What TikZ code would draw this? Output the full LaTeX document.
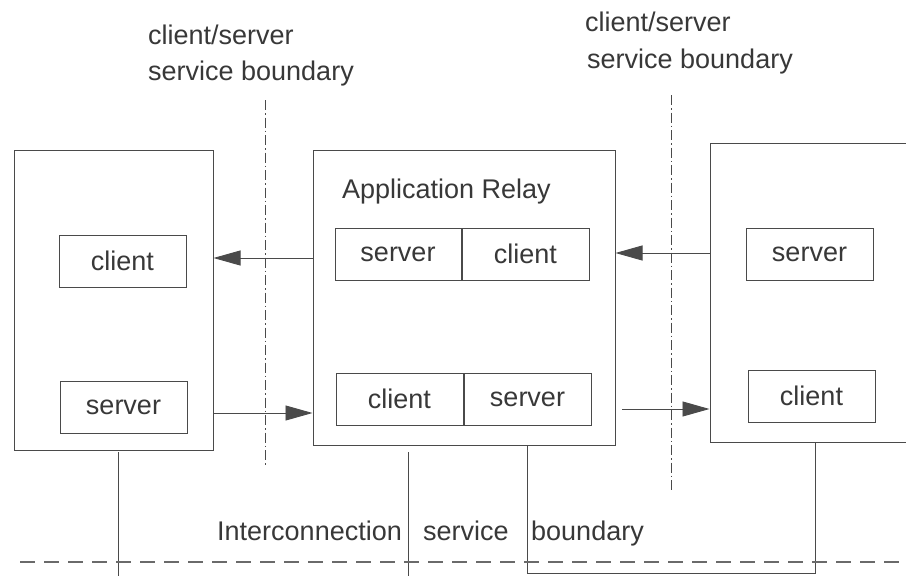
\documentclass[tikz,border=0pt]{standalone}
\usepackage{fontspec}
\setmainfont{Liberation Sans}
\usetikzlibrary{arrows.meta}
\definecolor{ink}{HTML}{4A4A4A}
\definecolor{txt}{HTML}{383838}
\definecolor{rule}{HTML}{6A6A6A}

\begin{document}
\begin{tikzpicture}[x=1pt,y=-1pt,
  every node/.style={font=\fontsize{27}{31}\selectfont, text=txt},
  frame/.style={draw=ink, line width=1pt, inner sep=0pt},
  part/.style={draw=ink, line width=1pt, inner sep=0pt, minimum height=52pt},
  label/.style={anchor=base west, inner sep=0pt},
  link/.style={draw=ink, line width=0.9pt, -{Triangle[length=27pt,width=15pt]}},
  wire/.style={draw=ink, line width=0.9pt},
  csline/.style={draw=ink, line width=0.8pt, dash pattern=on 10pt off 3pt on 1.5pt off 3pt},
  icline/.style={draw=rule, line width=2.4pt, dash pattern=on 15pt off 9pt}
]
\clip (0,0) rectangle (906,576);
\fill[white] (0,0) rectangle (906,576);

% end systems and the relay
\node[frame, minimum width=199pt, minimum height=300pt] (lbox) at (113.5,300) {};
\node[frame, minimum width=302pt, minimum height=295pt] (relay) at (464,297.5) {};
\node[frame, minimum width=240pt, minimum height=299pt] (rbox) at (830,292.5) {};

% client / server parts
\node[part, minimum width=127pt] (lcli) at (122.5,261) {client};
\node[part, minimum width=127pt] (lsrv) at (123.5,407) {server};
\node[part, minimum width=126pt] (tsrv) at (398,254) {server};
\node[part, minimum width=127pt, anchor=west] (tcli) at (tsrv.east) {client};
\node[part, minimum width=127pt] (bcli) at (399.5,399) {client};
\node[part, minimum width=127pt, anchor=west] (bsrv) at (bcli.east) {server};
\node[part, minimum width=127pt] (rsrv) at (809.5,254) {server};
\node[part, minimum width=127pt] (rcli) at (811.5,396) {client};

\node[label] (title) at (342,198) {Application Relay};

% request flows
\coordinate (a1) at (0,258);
\coordinate (a2) at (0,413);
\coordinate (a3) at (0,253);
\coordinate (a4) at (622,409);
\draw[link] (relay.west |- a1) -- (lbox.east |- a1);
\draw[link] (lbox.east |- a2) -- (relay.west |- a2);
\draw[link] (rbox.west |- a3) -- (relay.east |- a3);
\draw[link] (a4) -- (rbox.west |- a4);

% client/server service boundaries
\coordinate (b1t) at (265,100);
\coordinate (b1b) at (265,467);
\coordinate (b2t) at (671,95);
\coordinate (b2b) at (671,490);
\draw[csline] (b1t) -- (b1b);
\draw[csline] (b2t) -- (b2b);

\node[label] (lbl1a) at (148,44) {client/server};
\node[label] (lbl1b) at (148,80) {service boundary};
\node[label] (lbl2a) at (585,31) {client/server};
\node[label] (lbl2b) at (587,68) {service boundary};

% attachments to the interconnection
\coordinate (v1) at (118,452);
\coordinate (v1e) at (118,580);
\coordinate (v2) at (408,452);
\coordinate (v2e) at (408,580);
\coordinate (v3) at (527,0);
\coordinate (v4) at (815,0);
\coordinate (c1) at (527,573);
\coordinate (c2) at (815,573);
\draw[wire] (v1) -- (v1e);
\draw[wire] (v2) -- (v2e);
\draw[wire] (relay.south -| v3) -- (c1) -- (c2) -- (rbox.south -| v4);

% interconnection service boundary
\coordinate (d1) at (20,562);
\coordinate (d2) at (910,562);
\draw[icline] (d1) -- (d2);

\node[label] (ic1) at (217,540) {Interconnection};
\node[label] (ic2) at (423,540) {service};
\node[label] (ic3) at (531,540) {boundary};
\end{tikzpicture}
\end{document}
